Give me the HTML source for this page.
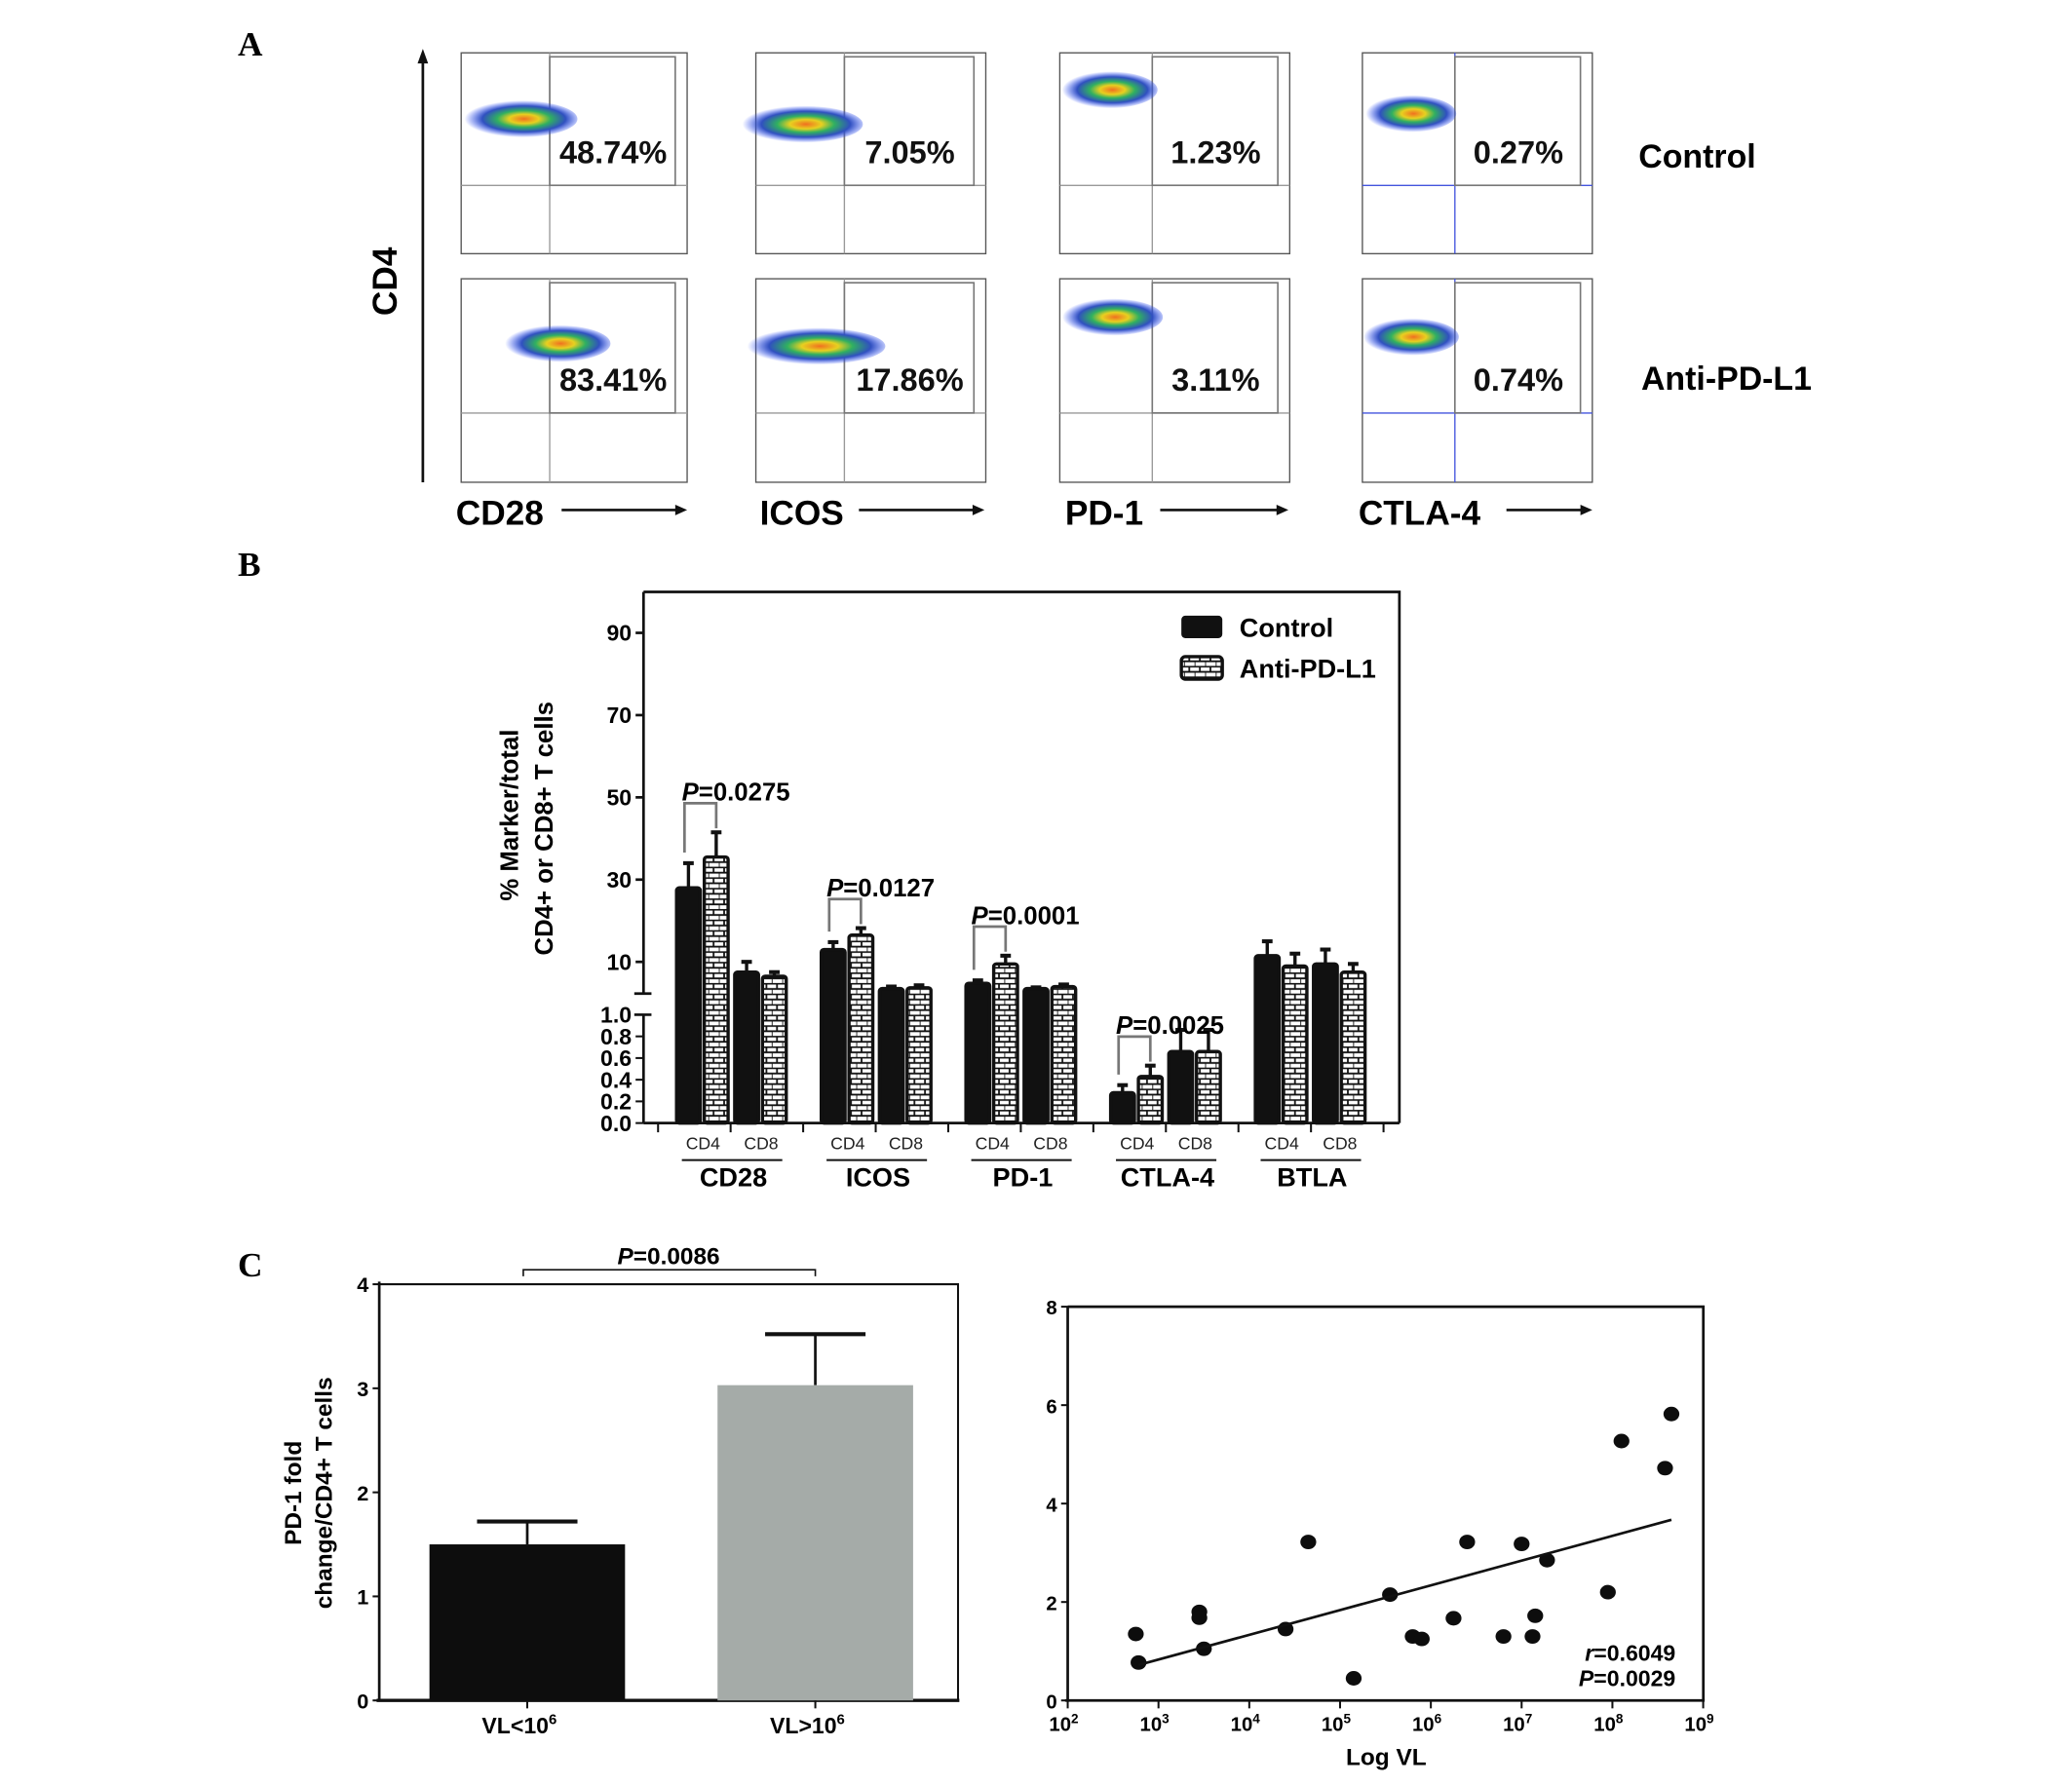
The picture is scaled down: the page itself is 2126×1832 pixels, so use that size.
<!DOCTYPE html>
<html><head><meta charset="utf-8"><style>
html,body{margin:0;padding:0;background:#fff}
svg{display:block;font-family:"Liberation Sans",Arial,sans-serif}
</style></head><body>
<svg id="fig" width="2126" height="1832" viewBox="0 0 1568 1351" preserveAspectRatio="none" xmlns="http://www.w3.org/2000/svg">
<defs>
<radialGradient id="cloud" cx="0.55" cy="0.5" r="0.5">
<stop offset="0" stop-color="#f07020"/><stop offset="0.25" stop-color="#e8d020"/><stop offset="0.45" stop-color="#30b060"/><stop offset="0.7" stop-color="#3050c0"/><stop offset="1" stop-color="#3050ff" stop-opacity="0"/>
</radialGradient>
<pattern id="brick" width="8" height="8" patternUnits="userSpaceOnUse">
<rect width="8" height="8" fill="#fff"/><path d="M0 0.5H8M0 4.5H8M4 0.5V4.5M0 4.5V8.5" stroke="#111" stroke-width="1.3"/>
</pattern>
</defs>
<g font-family="Liberation Serif,serif" font-weight="bold" font-size="26">
<text x="180" y="42">A</text>
<text x="180" y="436">B</text>
<text x="180" y="966">C</text>
</g>
<g id="panelA"></g>
<g id="panelB"></g>
<g id="panelC1"></g>
<g id="panelC2"></g>
</svg>
<script>
// ---- Panel A data ----
const flowMarkers=["CD28","ICOS","PD-1","CTLA-4"];
const flowControl=["48.74%","7.05%","1.23%","0.27%"];
const flowAnti=["83.41%","17.86%","3.11%","0.74%"];
// ---- Panel B data ----
const markerGroups=["CD28","ICOS","PD-1","CTLA-4","BTLA"];
const ctrlCD4=[28,13,4.8,0.28,11.5];
const ctrlCD4Err=[34,14.8,5.5,0.35,15];
const antiCD4=[35.5,16.5,9.5,0.43,9];
const antiCD4Err=[41.5,18.2,11.5,0.53,12];
const ctrlCD8=[7.5,3.5,3.5,0.66,9.5];
const ctrlCD8Err=[10,4,3.8,0.86,13];
const antiCD8=[6.5,3.7,4,0.66,7.5];
const antiCD8Err=[7.5,4.3,4.5,0.86,9.5];
const pLabels=["P=0.0275","P=0.0127","P=0.0001","P=0.0025",""];
const upperTicks=[10,30,50,70,90];
const lowerTicks=[0,0.2,0.4,0.6,0.8,1.0];
// ---- Panel C data ----
const vlCats=["VL<10","VL>10"];
const vlMeans=[1.5,3.03];
const vlErr=[1.72,3.52];
const vlTicks=[0,1,2,3,4];
const scatLogX=[2.75,2.78,3.45,3.45,3.5,4.4,4.65,5.15,5.55,5.8,5.9,6.25,6.4,6.8,7.0,7.12,7.15,7.28,7.95,8.1,8.58,8.65];
const scatY=[1.35,0.77,1.8,1.68,1.05,1.45,3.22,0.45,2.15,1.3,1.25,1.67,3.22,1.3,3.18,1.3,1.72,2.85,2.2,5.27,4.72,5.82];
const fitX=[2.78,8.65];
const fitY=[0.72,3.67];
const scatYTicks=[0,2,4,6,8];
const scatXTicks=[2,3,4,5,6,7,8,9];

const NS="http://www.w3.org/2000/svg";
function mk(p,tag,a,txt){const e=document.createElementNS(NS,tag);for(const k in a)e.setAttribute(k,a[k]);if(txt!==undefined)e.textContent=txt;p.appendChild(e);return e;}

// ===== Panel A =====
const A=document.getElementById('panelA');
const colX=[349,572,802,1031], colW=[171,174,174,174];
const gateX=[416,639,872,1101];
const rowY=[40,211], rowH=[152,154];
const cloudCx=[[392,605,838,1066],[420,615,840,1066]];
const cloudRx=[[45,48,38,36],[42,55,40,38]];
const cloudCy=[[90,94,68,86],[260,262,240,255]];
for(let r=0;r<2;r++){for(let c=0;c<4;c++){
 const g=mk(A,'g',{});
 
 
 const x=colX[c],y=rowY[r],w=colW[c],h=rowH[r];
 mk(g,'rect',{x:x,y:y,width:w,height:h,fill:'#fff',stroke:'#555','stroke-width':1});
 const qc=c===3?'#4455dd':'#999';
 mk(g,'line',{x1:gateX[c],y1:y,x2:gateX[c],y2:y+h,stroke:qc,'stroke-width':1});
 mk(g,'line',{x1:x,y1:y+h*0.66,x2:x+w,y2:y+h*0.66,stroke:qc,'stroke-width':1});
 mk(g,'rect',{x:gateX[c],y:y+3,width:x+w-gateX[c]-9,height:h*0.64,fill:'none',stroke:'#777','stroke-width':1.2});
 mk(g,'ellipse',{cx:cloudCx[r][c],cy:cloudCy[r][c],rx:cloudRx[r][c],ry:14,fill:'url(#cloud)'});
 mk(g,'text',{x:gateX[c]+(x+w-gateX[c])/2-4,y:y+h*0.55,'text-anchor':'middle','font-size':24,'font-weight':'bold',fill:'#111'},r?flowAnti[c]:flowControl[c]);
}}
mk(A,'line',{x1:320,y1:365,x2:320,y2:46,stroke:'#111','stroke-width':2});
mk(A,'path',{d:'M316 48 L320 37 L324 48Z',fill:'#111'});
const cd4=mk(A,'text',{x:0,y:0,transform:'translate(300,213) rotate(-90)','text-anchor':'middle','font-size':26,'font-weight':'bold'},'CD4');

const lblX=[345,575,806,1028],arrS=[425,650,878,1140],arrE=[520,745,975,1205];
for(let c=0;c<4;c++){
 mk(A,'text',{x:lblX[c],y:397,'font-size':26,'font-weight':'bold'},flowMarkers[c]);
 mk(A,'line',{x1:arrS[c],y1:386,x2:arrE[c]-8,y2:386,stroke:'#111','stroke-width':2});
 mk(A,'path',{d:`M${arrE[c]-9} 382 L${arrE[c]} 386 L${arrE[c]-9} 390Z`,fill:'#111'});
}
mk(A,'text',{x:1240,y:127,'font-size':25,'font-weight':'bold'},'Control');
mk(A,'text',{x:1242,y:295,'font-size':25,'font-weight':'bold'},'Anti-PD-L1');

// ===== Panel B =====
const B=document.getElementById('panelB');
const base=850;
function yB(v,low){ if(low||v<=1) return 850-v*82; return 728-(v-10)*3.1125; }
function yBar(v,i){ return markerGroups[i]==="CTLA-4"? 850-v*82 : yB(v,false); }
mk(B,'path',{d:'M487 448 H1059 V850',fill:'none',stroke:'#111','stroke-width':2});
mk(B,'line',{x1:487,y1:448,x2:487,y2:752,stroke:'#111','stroke-width':2});
mk(B,'line',{x1:487,y1:768,x2:487,y2:850,stroke:'#111','stroke-width':2});
mk(B,'line',{x1:480,y1:752,x2:493,y2:752,stroke:'#111','stroke-width':2});
mk(B,'line',{x1:480,y1:768,x2:493,y2:768,stroke:'#111','stroke-width':2});
mk(B,'line',{x1:487,y1:850,x2:1059,y2:850,stroke:'#111','stroke-width':2});
upperTicks.forEach(t=>{const y=yB(t,false);
 mk(B,'line',{x1:481,y1:y,x2:487,y2:y,stroke:'#111','stroke-width':2});
 mk(B,'text',{x:478,y:y+6,'text-anchor':'end','font-size':17,'font-weight':'bold'},String(t));});
lowerTicks.forEach(t=>{const y=yB(t,true);
 mk(B,'line',{x1:481,y1:y,x2:487,y2:y,stroke:'#111','stroke-width':1.5});
 mk(B,'text',{x:478,y:y+6,'text-anchor':'end','font-size':17,'font-weight':'bold'},t.toFixed(1));});
for(let k=0;k<11;k++){const x=498+k*54.9;mk(B,'line',{x1:x,y1:850,x2:x,y2:857,stroke:'#111','stroke-width':1.5});}
mk(B,'text',{transform:'translate(392,617) rotate(-90)','text-anchor':'middle','font-size':19,'font-weight':'bold'},'% Marker/total');
mk(B,'text',{transform:'translate(418,627) rotate(-90)','text-anchor':'middle','font-size':19,'font-weight':'bold'},'CD4+ or CD8+ T cells');
const bw=18;
function bar(cx,v,e,i,anti,name){
 const yv=yBar(v,i),ye=yBar(e,i);
 mk(B,'line',{x1:cx,y1:ye,x2:cx,y2:yv,stroke:'#111','stroke-width':2.5});
 mk(B,'line',{x1:cx-4,y1:ye,x2:cx+4,y2:ye,stroke:'#111','stroke-width':3});
 const r=mk(B,'rect',{x:cx-bw/2,y:yv,width:bw,height:base-yv,fill:anti?'url(#brick)':'#111',stroke:'#111','stroke-width':2.5,rx:2});
 
}
markerGroups.forEach((g,i)=>{
 const gx=521+i*109.5;
 bar(gx,ctrlCD4[i],ctrlCD4Err[i],i,false,'bar-control-cd4');
 bar(gx+21,antiCD4[i],antiCD4Err[i],i,true,'bar-anti-cd4');
 bar(gx+44,ctrlCD8[i],ctrlCD8Err[i],i,false,'bar-control-cd8');
 bar(gx+65,antiCD8[i],antiCD8Err[i],i,true,'bar-anti-cd8');
 mk(B,'text',{x:gx+11,y:870,'text-anchor':'middle','font-size':13,fill:'#222'},'CD4');
 mk(B,'text',{x:gx+55,y:870,'text-anchor':'middle','font-size':13,fill:'#222'},'CD8');
 mk(B,'line',{x1:gx-5,y1:878,x2:gx+71,y2:878,stroke:'#111','stroke-width':1.5});
 mk(B,'text',{x:gx+34,y:898,'text-anchor':'middle','font-size':20,'font-weight':'bold'},g);
 if(pLabels[i]){
  const top=Math.min(yBar(ctrlCD4Err[i],i),yBar(antiCD4Err[i],i))-22;
  mk(B,'path',{d:`M${gx-3} ${yBar(ctrlCD4Err[i],i)-8} V${top} H${gx+21} V${yBar(antiCD4Err[i],i)-3}`,fill:'none',stroke:'#777','stroke-width':2});
  const t=mk(B,'text',{x:gx-5,y:top-2,'font-size':19,'font-weight':'bold'});
  mk(t,'tspan',{'font-style':'italic'},'P');mk(t,'tspan',{},pLabels[i].slice(1));
 }
});
mk(B,'rect',{x:894,y:466,width:31,height:17,rx:3,fill:'#111'});
mk(B,'text',{x:938,y:482,'font-size':20,'font-weight':'bold'},'Control');
mk(B,'rect',{x:894,y:497,width:31,height:17,rx:3,fill:'url(#brick)',stroke:'#111','stroke-width':2.5});
mk(B,'text',{x:938,y:513,'font-size':20,'font-weight':'bold'},'Anti-PD-L1');

// ===== Panel C1 =====
const C=document.getElementById('panelC1');
function yC(v){return 1287-v*78.75;}
mk(C,'path',{d:'M287 972 H725 V1287',fill:'none',stroke:'#111','stroke-width':1.5});
mk(C,'line',{x1:287,y1:970,x2:287,y2:1287,stroke:'#111','stroke-width':2});
mk(C,'line',{x1:285,y1:1287,x2:726,y2:1287,stroke:'#111','stroke-width':2.5});
vlTicks.forEach(t=>{const y=yC(t);mk(C,'line',{x1:282,y1:y,x2:287,y2:y,stroke:'#111','stroke-width':1.5});
 mk(C,'text',{x:279,y:y+6,'text-anchor':'end','font-size':16,'font-weight':'bold'},String(t));});
const barCx=[399,617],barCol=['#0d0d0d','#a5aba8'];
vlCats.forEach((c,i)=>{
 const y=yC(vlMeans[i]),ye=yC(vlErr[i]);
 mk(C,'line',{x1:barCx[i],y1:ye,x2:barCx[i],y2:y,stroke:'#111','stroke-width':2});
 mk(C,'line',{x1:barCx[i]-38,y1:ye,x2:barCx[i]+38,y2:ye,stroke:'#111','stroke-width':3});
 const r=mk(C,'rect',{x:barCx[i]-74,y:y,width:148,height:1287-y,fill:barCol[i]});
 
 mk(C,'line',{x1:barCx[i],y1:1287,x2:barCx[i],y2:1293,stroke:'#111','stroke-width':1.5});
 const t=mk(C,'text',{x:barCx[i]-6,y:1312,'text-anchor':'middle','font-size':17,'font-weight':'bold'},c);
 mk(t,'tspan',{dy:-7,'font-size':11},'6');
});
mk(C,'path',{d:'M396 966 V961 H617 V966',fill:'none',stroke:'#111','stroke-width':1.2});
const pt=mk(C,'text',{x:506,y:957,'text-anchor':'middle','font-size':18,'font-weight':'bold'});
mk(pt,'tspan',{'font-style':'italic'},'P');mk(pt,'tspan',{},'=0.0086');
mk(C,'text',{transform:'translate(228,1130) rotate(-90)','text-anchor':'middle','font-size':18,'font-weight':'bold'},'PD-1 fold');
mk(C,'text',{transform:'translate(251,1130) rotate(-90)','text-anchor':'middle','font-size':18,'font-weight':'bold'},'change/CD4+ T cells');

// ===== Panel C2 =====
const S=document.getElementById('panelC2');
function xS(l){return 808+(l-2)*68.7;}
function yS(v){return 1287-v*37.25;}
mk(S,'path',{d:'M808 989 H1289 V1287',fill:'none',stroke:'#111','stroke-width':2});
mk(S,'line',{x1:808,y1:989,x2:808,y2:1288,stroke:'#111','stroke-width':2});
mk(S,'line',{x1:806,y1:1287,x2:1290,y2:1287,stroke:'#111','stroke-width':2});
scatYTicks.forEach(t=>{const y=yS(t);mk(S,'line',{x1:803,y1:y,x2:808,y2:y,stroke:'#111','stroke-width':1.5});
 mk(S,'text',{x:800,y:y+6,'text-anchor':'end','font-size':15,'font-weight':'bold'},String(t));});
scatXTicks.forEach(t=>{const x=xS(t);mk(S,'line',{x1:x,y1:1287,x2:x,y2:1293,stroke:'#111','stroke-width':1.5});
 const tx=mk(S,'text',{x:x-3,y:1310,'text-anchor':'middle','font-size':15,'font-weight':'bold'},'10');
 mk(tx,'tspan',{dy:-6,'font-size':10},String(t));});
scatLogX.forEach((l,i)=>{
 const c=mk(S,'ellipse',{cx:xS(l),cy:yS(scatY[i]),rx:6,ry:5.5,fill:'#0d0d0d'});
 
});
mk(S,'line',{x1:xS(fitX[0]),y1:yS(fitY[0]),x2:xS(fitX[1]),y2:yS(fitY[1]),stroke:'#111','stroke-width':2});
const r1=mk(S,'text',{x:1268,y:1257,'text-anchor':'end','font-size':17,'font-weight':'bold'});
mk(r1,'tspan',{'font-style':'italic'},'r');mk(r1,'tspan',{},'=0.6049');
const r2=mk(S,'text',{x:1268,y:1276,'text-anchor':'end','font-size':17,'font-weight':'bold'});
mk(r2,'tspan',{'font-style':'italic'},'P');mk(r2,'tspan',{},'=0.0029');
mk(S,'text',{x:1049,y:1336,'text-anchor':'middle','font-size':18,'font-weight':'bold'},'Log VL');
</script>
</body></html>
